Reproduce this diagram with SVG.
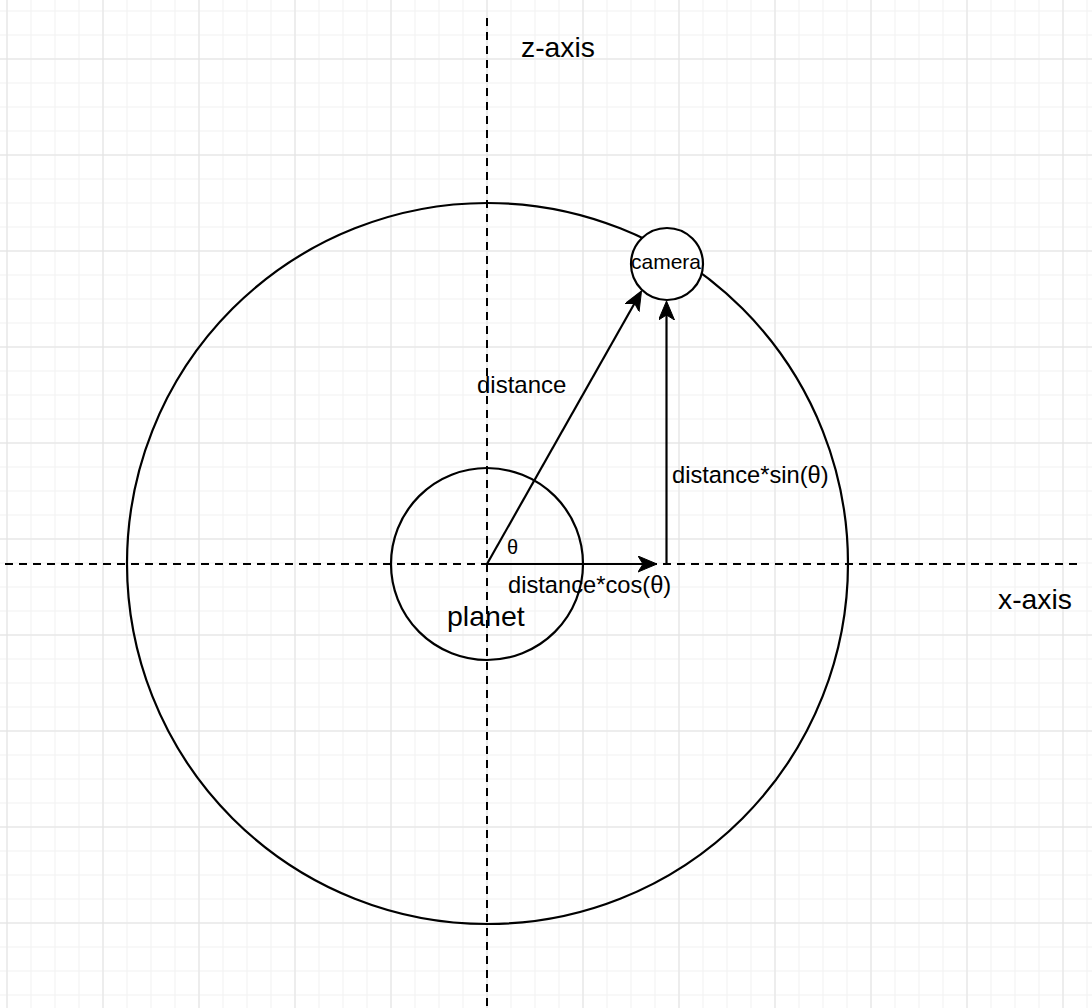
<svg xmlns="http://www.w3.org/2000/svg" width="1092" height="1008" viewBox="0 0 1092 1008">
  <style>
    .axis { stroke: #000; stroke-width: 2; stroke-dasharray: 8 6; fill: none; }
    .shape { stroke: #000; stroke-width: 2.2; }
    .edge { stroke: #000; stroke-width: 2.2; fill: none; }
    .lbl { font-family: "Liberation Sans", Arial, Helvetica, sans-serif; fill: #000; }
  </style>
  <defs>
    <pattern id="minor" patternUnits="userSpaceOnUse" x="6.5" y="10.5" width="24" height="24">
      <rect x="0" y="0" width="1" height="24" fill="#f1f1f1"/>
      <rect x="0" y="0" width="24" height="1" fill="#f1f1f1"/>
    </pattern>
    <pattern id="major" patternUnits="userSpaceOnUse" x="6.5" y="58.5" width="96" height="96">
      <rect x="0" y="0" width="1" height="96" fill="#e2e2e2"/>
      <rect x="0" y="0" width="96" height="1" fill="#e2e2e2"/>
    </pattern>
    <marker id="arrow" markerUnits="userSpaceOnUse" viewBox="0 0 20 18" markerWidth="20" markerHeight="18" refX="5" refY="8" orient="auto">
      <path d="M19,8 L0,0 L5,8 L0,16 Z" fill="#000" stroke="#000" stroke-width="1" stroke-linejoin="miter"/>
    </marker>
  </defs>

  <g id="grid">
    <rect width="1092" height="1008" fill="#ffffff"/>
    <rect width="1092" height="1008" fill="url(#minor)"/>
    <rect width="1092" height="1008" fill="url(#major)"/>
  </g>

  <g id="axes">
    <line class="axis" x1="5" y1="564" x2="1080" y2="564"/>
    <line class="axis" x1="487" y1="18" x2="487" y2="1008"/>
  </g>

  <g id="orbit">
    <circle class="shape" cx="487.5" cy="563.5" r="360.5" fill="none"/>
  </g>

  <g id="planet">
    <circle class="shape" cx="487" cy="564" r="96" fill="none"/>
    <text class="lbl" x="447" y="626" font-size="28.5">planet</text>
  </g>

  <g id="connectors">
    <line class="edge" x1="487" y1="564" x2="634.6" y2="303.2" marker-end="url(#arrow)"/>
    <line class="edge" x1="487" y1="564" x2="643" y2="564" marker-end="url(#arrow)"/>
    <line class="edge" x1="666.5" y1="565" x2="666.5" y2="315" marker-end="url(#arrow)"/>
  </g>

  <g id="camera">
    <circle class="shape" cx="667" cy="264" r="36" fill="#ffffff"/>
    <text class="lbl" x="631" y="269" font-size="21">camera</text>
  </g>

  <g id="labels">
    <text class="lbl" x="521" y="57" font-size="28.3">z-axis</text>
    <text class="lbl" x="998" y="609" font-size="28.3">x-axis</text>
    <text class="lbl" x="477" y="393" font-size="24">distance</text>
    <text class="lbl" x="672" y="483" font-size="23.7">distance*sin(θ)</text>
    <text class="lbl" x="508" y="593" font-size="23.7">distance*cos(θ)</text>
    <text class="lbl" x="507" y="554" font-size="20">θ</text>
  </g>
</svg>
